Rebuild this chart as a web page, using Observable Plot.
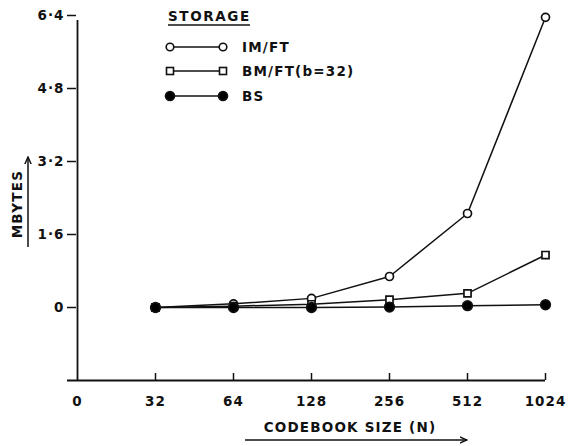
<!DOCTYPE html>
<html><head><meta charset="utf-8">
<script src="https://cdn.jsdelivr.net/npm/d3@7"></script>
<script src="https://cdn.jsdelivr.net/npm/@observablehq/plot@0.6"></script>
<style>
body{margin:0;background:#fff;}
#chart{position:relative;width:571px;height:446px;}
svg{font-family:"DejaVu Sans",sans-serif;}
</style>
</head><body><div id="chart"></div>
<script>
const xCategories = ["0","32","64","128","256","512","1024"];
const dataN = ["32","64","128","256","512","1024"];
const imft = [0, 0.08, 0.2, 0.68, 2.06, 6.36];
const bmft = [0, 0.03, 0.07, 0.17, 0.31, 1.15];
const bs = [0, 0, 0, 0.01, 0.04, 0.06];
const yTicks = [0, 1.6, 3.2, 4.8, 6.4];
const yTickLabels = ["0", "1·6", "3·2", "4·8", "6·4"];
const yMin = -1.6;
const seriesNames = ["IM/FT", "BM/FT(b=32)", "BS"];
const seriesSymbols = ["circle", "square", "circle"];
const seriesFills = ["white", "white", "black"];
const seriesValues = [imft, bmft, bs];

const rows = [];
seriesNames.forEach((s, i) => dataN.forEach((n, j) => rows.push({series: s, n, v: seriesValues[i][j]})));

const W = 571, H = 446;
const mL = 76, mR = 26, mT = 15, mB = 66;

const marks = [
  Plot.ruleY([yMin], {insetLeft: -9, strokeWidth: 1.8}),
  Plot.ruleX([xCategories[0]], {y1: yMin, y2: yTicks[yTicks.length-1], insetBottom: -5, strokeWidth: 1.8}),
  Plot.ruleX(xCategories.slice(1), {y1: yMin, y2: yMin, insetTop: -7, strokeWidth: 1.5}),
  Plot.axisY({ticks: yTicks, tickFormat: (d) => yTickLabels[yTicks.indexOf(d)], tickSize: 9, tickPadding: 3, label: null, strokeWidth: 1.5}),
  Plot.axisX({tickSize: 0, tickPadding: 16, label: null}),
];
seriesNames.forEach((s, i) => {
  const d = rows.filter(r => r.series === s);
  marks.push(Plot.line(d, {x: "n", y: "v", stroke: "#111", strokeWidth: 1.5}));
});
seriesNames.forEach((s, i) => {
  const d = rows.filter(r => r.series === s);
  marks.push(Plot.dot(d, {x: "n", y: "v", symbol: seriesSymbols[i], r: i === 1 ? 4 : (i === 2 ? 4.8 : 4), fill: seriesFills[i], stroke: "#111", strokeWidth: 1.7}));
});

const plot = Plot.plot({
  width: W, height: H,
  marginLeft: mL, marginRight: mR, marginTop: mT, marginBottom: mB,
  x: {type: "point", domain: xCategories, padding: 0},
  y: {domain: [yMin, yTicks[yTicks.length-1]]},
  style: {fontFamily: "DejaVu Sans, sans-serif", fontSize: "13.5px", fontWeight: "bold", letterSpacing: "1px", color: "#111", background: "white", overflow: "visible"},
  marks
});
document.getElementById("chart").appendChild(plot);

// decorations: legend, axis titles and arrows
const svg = d3.select(plot);
const g = svg.append("g").attr("font-family", "DejaVu Sans, sans-serif").attr("fill", "#111").attr("text-anchor", "start").attr("font-size", 13.5).attr("font-weight", "bold");
svg.append("defs").append("marker").attr("id", "ah").attr("viewBox", "0 0 10 10").attr("refX", 9).attr("refY", 5)
  .attr("markerWidth", 8).attr("markerHeight", 8).attr("markerUnits", "userSpaceOnUse").attr("orient", "auto")
  .append("path").attr("d", "M0,1 L9,5 L0,9").attr("fill", "none").attr("stroke", "#111").attr("stroke-width", 1.8);

g.append("text").attr("x", 168).attr("y", 21).attr("letter-spacing", 1.6).text("STORAGE");
g.append("line").attr("x1", 168).attr("x2", 250).attr("y1", 25).attr("y2", 25).attr("stroke", "#111").attr("stroke-width", 1.5);
const legY = [47, 71, 96];
seriesNames.forEach((s, i) => {
  const y = legY[i];
  g.append("line").attr("x1", 170).attr("x2", 223).attr("y1", y).attr("y2", y).attr("stroke", "#111").attr("stroke-width", 1.5);
  [170, 223].forEach(x => {
    if (seriesSymbols[i] === "square") {
      g.append("rect").attr("x", x - 3.5).attr("y", y - 3.5).attr("width", 7).attr("height", 7).attr("fill", "white").attr("stroke", "#111").attr("stroke-width", 1.6);
    } else {
      g.append("circle").attr("cx", x).attr("cy", y).attr("r", i === 2 ? 4.5 : 3.8).attr("fill", seriesFills[i]).attr("stroke", "#111").attr("stroke-width", 1.6);
    }
  });
  g.append("text").attr("x", 242).attr("y", y + 5).attr("letter-spacing", 1.2).text(s);
});

g.append("text").attr("x", 350).attr("y", 432).attr("text-anchor", "middle").attr("letter-spacing", 1.2).text("CODEBOOK SIZE (N)");
g.append("line").attr("x1", 245).attr("x2", 467).attr("y1", 440).attr("y2", 440).attr("stroke", "#111").attr("stroke-width", 1.5).attr("marker-end", "url(#ah)");

g.append("text").attr("transform", "translate(22,204) rotate(-90)").attr("text-anchor", "middle").attr("letter-spacing", 1.3).text("MBYTES");
g.append("line").attr("x1", 28).attr("x2", 28).attr("y1", 247).attr("y2", 157).attr("stroke", "#111").attr("stroke-width", 1.5).attr("marker-end", "url(#ah)");
</script></body></html>
